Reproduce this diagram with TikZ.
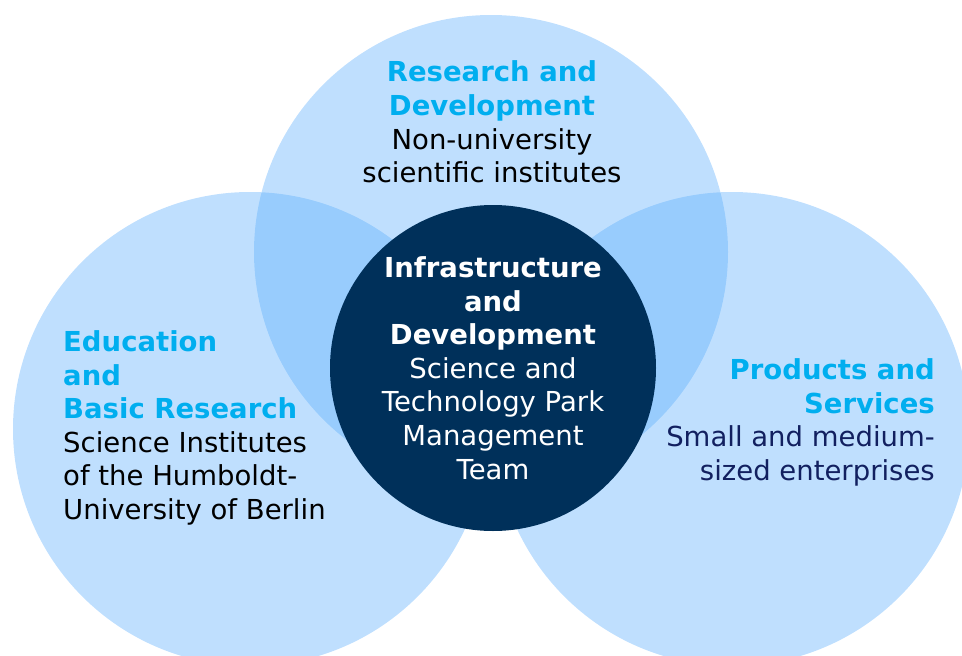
\documentclass[tikz,border=0pt]{standalone}
\usepackage{fontspec}
\setmainfont{DejaVu Sans}
\definecolor{vennfill}{RGB}{91,173,252}
\definecolor{coreblue}{RGB}{0,48,90}
\definecolor{headcyan}{RGB}{0,174,239}
\definecolor{navytext}{RGB}{18,32,96}
\newcommand{\vennfont}{\fontsize{27.5}{33.6}\selectfont}
\newcommand{\hd}[1]{\textcolor{headcyan}{\textbf{#1}}}
\tikzset{%
  sphere/.style={%
    circle,
    fill=vennfill,
    fill opacity=0.39,
    minimum size=474pt,
    inner sep=0pt
  },
  core/.style={%
    circle,
    fill=coreblue,
    minimum size=326pt,
    inner sep=0pt
  },
  txt/.style={%
    font=\vennfont,
    inner sep=0pt
  }
}
\begin{document}
\begin{tikzpicture}[x=1pt,y=-1pt]
    \useasboundingbox (0,0) rectangle (962,656);
    \clip (0,0) rectangle (962,656);

    \node[sphere] (edu) at (250,429) {};
    \node[sphere] (prod) at (732,429) {};
    \node[sphere] (rd) at (491,252) {};
    \node[core] (infra) at (493,368) {};

    \node[txt,align=center] (rdtext) at (492,122)
      {\hd{Research and}\\ \hd{Development}\\ Non-university\\ scientific institutes};
    \node[txt,align=left,anchor=west] (edutext) at (63,428)
      {\hd{Education}\\ \hd{and}\\ \hd{Basic Research}\\ Science Institutes\\ of the Humboldt-\\ University of Berlin};
    \node[txt,align=right,anchor=east,text=navytext] (prodtext) at (935,422.5)
      {\hd{Products and}\\ \hd{Services}\\ Small and medium-\\ sized enterprises};
    \node[txt,align=center,text=white] (infratext) at (infra)
      {\textbf{Infrastructure}\\ \textbf{and}\\ \textbf{Development}\\ Science and\\ Technology Park\\ Management\\ Team};
\end{tikzpicture}
\end{document}
